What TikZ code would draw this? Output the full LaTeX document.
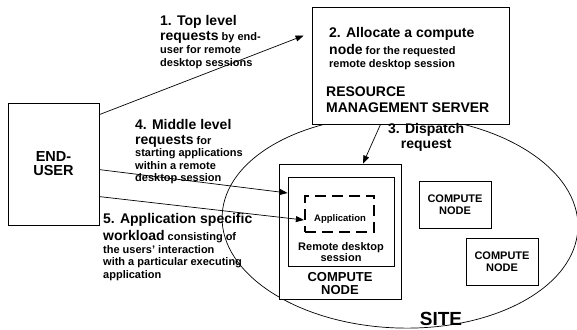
\documentclass[tikz,border=0pt]{standalone}
\usepackage{fontspec}
\setmainfont{Liberation Sans}
\usetikzlibrary{arrows.meta,calc}
\newcommand\bigpart[1]{{\fontsize{14}{16}\selectfont #1}}
\begin{document}
\begin{tikzpicture}[x=1pt,y=-1pt,
  box/.style={draw=black, line width=0.8pt, fill=white, inner sep=0pt},
  txt/.style={inner sep=0pt, align=left, anchor=north west, font=\bfseries\fontsize{11}{13.2}\selectfont},
  ctxt/.style={inner sep=0pt, align=center, anchor=north, font=\bfseries\fontsize{11}{11.5}\selectfont},
  arr/.style={draw=black, line width=0.7pt, -{Triangle[length=8pt,width=6pt]}},
]
\useasboundingbox (0,0) rectangle (577,329);
% site
\draw[line width=0.7pt, rotate around={-2:(400,222)}] (400,222) ellipse [x radius=178pt, y radius=106pt];
% boxes
\node[box, minimum width=197pt, minimum height=117pt] (rms) at (410.5,65.5) {};
\node[box, minimum width=91pt, minimum height=122pt, align=center,
      font=\bfseries\fontsize{14.5}{14}\selectfont] (enduser) at (53.5,164) {END-\\USER};
\node[box, minimum width=122pt, minimum height=135pt] (cn1) at (340,231.5) {};
\node[box, minimum width=106pt, minimum height=89pt] (rds) at (341,221.5) {};
\node[draw=black, line width=2.2pt, dash pattern=on 11pt off 6pt, inner sep=0pt,
      minimum width=69pt, minimum height=36pt] (app) at (339.5,214) {};
\node[box, minimum width=72pt, minimum height=47pt, align=center,
      font=\bfseries\fontsize{11}{12}\selectfont] (cn2) at (455,204.5) {COMPUTE\\NODE};
\node[box, minimum width=72pt, minimum height=47pt, align=center,
      font=\bfseries\fontsize{11}{12}\selectfont] (cn3) at (502,261.5) {COMPUTE\\NODE};
% texts inside boxes
\node[anchor=base, inner sep=0pt, font=\bfseries\fontsize{9.5}{10}\selectfont] (apptxt) at (340,221) {Application};
\node[ctxt] (rdstxt) at (341,242) {Remote desktop\\session};
\node[ctxt, font=\bfseries\fontsize{13}{13}\selectfont] (cn1txt) at (340,272.4) {COMPUTE\\NODE};
\node[txt] (t2) at (329,26.8) {\bigpart{2. Allocate a compute}\\[3.8pt]\bigpart{node} for the requested\\remote desktop session};
\node[txt, font=\bfseries\fontsize{14}{16}\selectfont] (rmsname) at (326,86.7) {RESOURCE\\MANAGEMENT SERVER};
% labels
\node[txt] (l1) at (160,15.5) {\bigpart{1. Top level}\\[1.1pt]\bigpart{requests} by end-\\user for remote\\desktop sessions};
\node[txt, font=\bfseries\fontsize{11}{12.6}\selectfont] (l4) at (135,118.8) {\bigpart{4. Middle level}\\[2.4pt]\bigpart{requests} for\\starting applications\\within a remote\\desktop session};
\node[txt, font=\bfseries\fontsize{11}{12.8}\selectfont] (l5) at (103,213.1) {\bigpart{5. Application specific}\\[2.9pt]\bigpart{workload} consisting of\\the users' interaction\\with a particular executing\\application};
\node[txt, align=center, font=\bfseries\fontsize{14}{15}\selectfont] (l3) at (388,123) {3. Dispatch\\request};
\node[anchor=base, inner sep=0pt, font=\bfseries\fontsize{19}{20}\selectfont] (site) at (441,325) {SITE};
% connectors
\draw[arr] ([yshift=-12pt]enduser.north east) -- ([xshift=-8pt,yshift=-29pt]rms.north west);
\draw[arr] ([xshift=-30pt]rms.south) -- ([xshift=23pt]cn1.north);
\draw[arr] ([yshift=-67pt]enduser.north east) -- ([yshift=28.5pt]rds.west);
\draw[arr] ([yshift=-94pt]enduser.north east) -- ([yshift=-6pt]app.west);
\end{tikzpicture}
\end{document}
